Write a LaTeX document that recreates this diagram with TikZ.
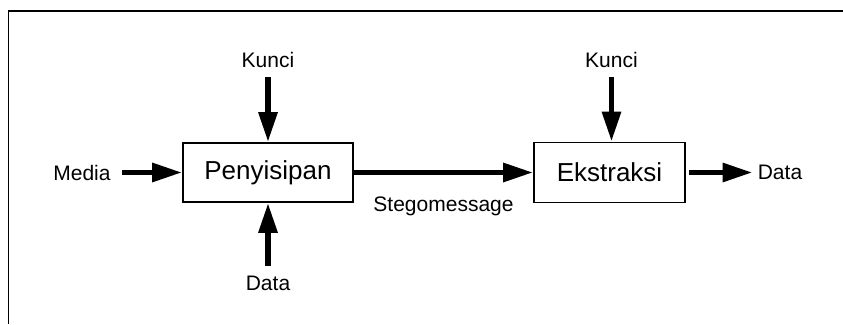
\documentclass[tikz,border=0pt]{standalone}
\usepackage{fontspec}
\setmainfont{Liberation Sans}
\usetikzlibrary{arrows.meta}

\tikzset{
box/.style={draw,line width=1.6pt,inner sep=0pt,font=\fontsize{26}{30}\selectfont},
lbl/.style={inner sep=5pt,font=\fontsize{21}{25}\selectfont},
arr/.style={->,>={Triangle[length=30pt,width=18pt]},line width=5.8pt}
}

\begin{document}
\begin{tikzpicture}[x=1pt,y=1pt,node distance=113pt]
\useasboundingbox (0,0) rectangle (843,324);
\draw[line width=1.8pt] (8.5,0) -- (8.5,313) -- (843,313);

\node[box,minimum width=170pt,minimum height=59pt] (peny) at (268,151.5) {Penyisipan};
\node[box,minimum width=151pt,minimum height=60pt] [right of=peny,node distance=341.5pt](ekstr) {Ekstraksi};
\node[lbl] [above of=peny](kunci1) {Kunci};
\node[lbl] [above of=ekstr,xshift=2pt](kunci2) {Kunci};
\node[lbl] [below of=peny,node distance=110.5pt](data1) {Data};
\node[lbl] [left of=peny,node distance=186pt](media) {Media};
\node[lbl] [right of=ekstr,node distance=170.5pt](data2) {Data};

\path[arr] (kunci1) edge [shorten <=5pt] (peny)
(data1) edge [shorten <=4pt] (peny)
(media) edge [shorten <=6pt] (peny)
(peny) edge node[lbl,below=19pt,line width=0pt]{Stegomessage} (ekstr)
(kunci2) edge [shorten <=5pt] (kunci2 |- ekstr.north)
(ekstr) edge [shorten <=3pt] (data2);
\end{tikzpicture}
\end{document}
